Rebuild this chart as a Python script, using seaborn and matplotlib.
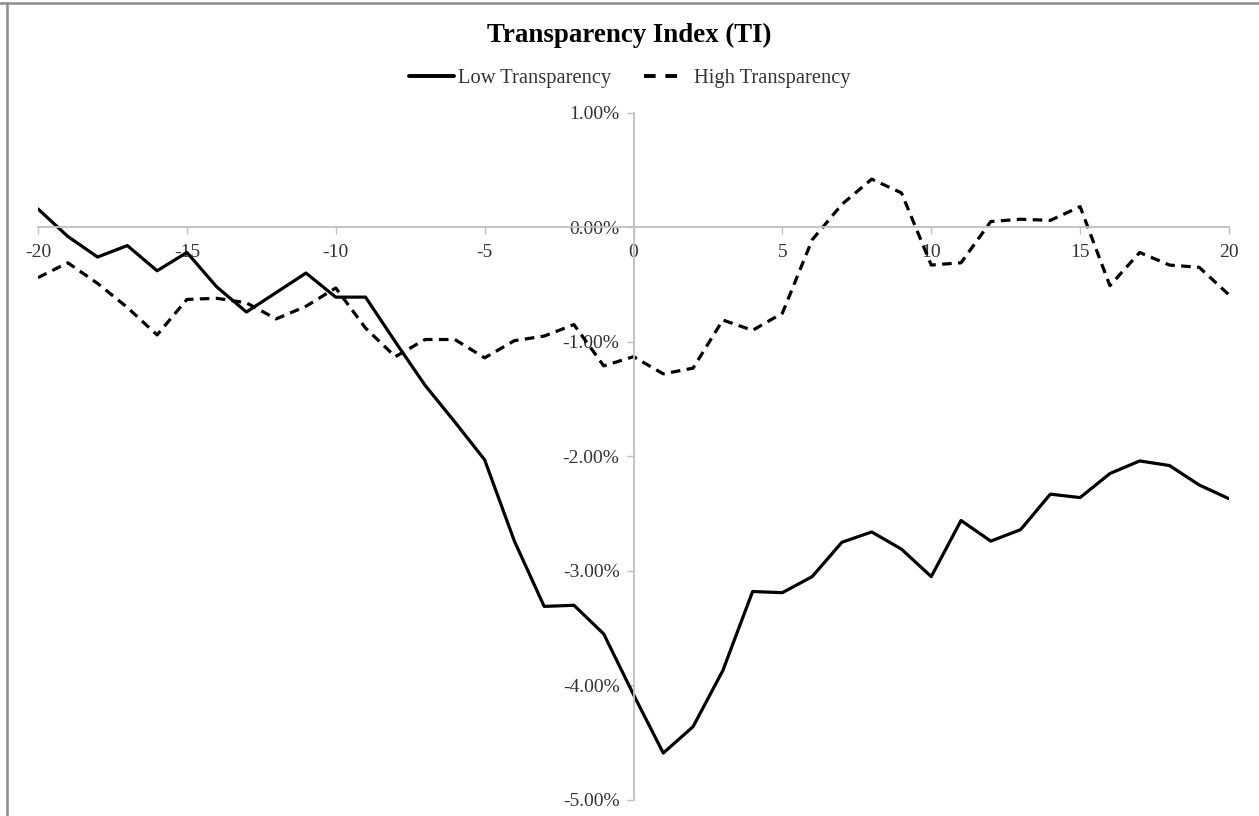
import numpy as np
import pandas as pd
import matplotlib
matplotlib.use("Agg")
import matplotlib.pyplot as plt
import seaborn as sns
from matplotlib.ticker import PercentFormatter, FixedLocator
from matplotlib.lines import Line2D

event_days = list(range(-20, 21))
low_transparency = [0.16, -0.08, -0.26, -0.16, -0.38, -0.22, -0.52, -0.74, -0.57, -0.40,
                    -0.61, -0.61, -1.00, -1.38, -1.70, -2.03, -2.74, -3.31, -3.30, -3.55,
                    -4.08, -4.59, -4.36, -3.87, -3.18, -3.19, -3.05, -2.75, -2.66, -2.81,
                    -3.05, -2.56, -2.74, -2.64, -2.33, -2.36, -2.15, -2.04, -2.08, -2.25,
                    -2.37]
high_transparency = [-0.44, -0.31, -0.49, -0.70, -0.94, -0.63, -0.62, -0.66, -0.80, -0.69,
                     -0.53, -0.88, -1.13, -0.98, -0.98, -1.14, -0.99, -0.95, -0.85, -1.21,
                     -1.13, -1.28, -1.23, -0.81, -0.90, -0.75, -0.11, 0.20, 0.42, 0.30,
                     -0.33, -0.31, 0.05, 0.07, 0.06, 0.18, -0.51, -0.22, -0.33, -0.35,
                     -0.59]
series_names = ["Low Transparency", "High Transparency"]
x_ticks = [-20, -15, -10, -5, 0, 5, 10, 15, 20]
y_ticks = [1.0, 0.0, -1.0, -2.0, -3.0, -4.0, -5.0]
title = "Transparency Index (TI)"

df = pd.DataFrame({
    "day": event_days * 2,
    "value": low_transparency + high_transparency,
    "series": [series_names[0]] * len(event_days) + [series_names[1]] * len(event_days),
})

sns.set_style("white")
plt.rcParams["font.family"] = ["Liberation Serif", "DejaVu Serif"]
plt.rcParams["axes.unicode_minus"] = False

fig = plt.figure(figsize=(12.59, 8.16), dpi=100)
ax = fig.add_axes([38 / 1259, 1 - 800 / 816, (1229 - 38) / 1259, (800 - 112.7) / 816])

sns.lineplot(data=df, x="day", y="value", hue="series", style="series",
             palette={series_names[0]: "black", series_names[1]: "black"},
             dashes={series_names[0]: "", series_names[1]: (3, 2)},
             linewidth=2.3, ax=ax, legend=False)

ax.set_xlim(-20, 20)
ax.set_ylim(-5, 1)
ax.xaxis.set_major_locator(FixedLocator(x_ticks))
ax.yaxis.set_major_locator(FixedLocator(y_ticks))
ax.yaxis.set_major_formatter(PercentFormatter(xmax=100, decimals=2))
ax.set_xlabel("")
ax.set_ylabel("")

axis_color = "#BFBFBF"
text_color = "#333333"
ax.spines["left"].set_position(("data", 0))
ax.spines["bottom"].set_position(("data", 0))
ax.spines["top"].set_visible(False)
ax.spines["right"].set_visible(False)
for s in ("left", "bottom"):
    ax.spines[s].set_color(axis_color)
    ax.spines[s].set_linewidth(1.3)
ax.tick_params(axis="both", which="major", direction="out", length=5, width=1.0,
               color=axis_color, labelsize=14, labelcolor=text_color)
ax.tick_params(axis="x", bottom=True, pad=7)
ax.tick_params(axis="y", left=True, pad=5)
ax.patch.set_alpha(0)

fig.text(0.5, 1 - 35 / 816, title, ha="center", va="center",
         fontsize=19.4, fontweight="bold", color="black")

handles = [Line2D([], [], color="black", lw=2.8, linestyle="-"),
           Line2D([], [], color="black", lw=2.8, linestyle=(0, (3, 2.5, 3, 8)))]
fig.legend(handles, series_names, loc="center", bbox_to_anchor=(0.5, 1 - 78 / 816),
           ncol=2, frameon=False, fontsize=14.8, handlelength=2.2,
           columnspacing=1.6, handletextpad=0.2, labelcolor=text_color)

# partial frame around the figure (top and left edges only)
border = "#8C8C8C"
fig.add_artist(Line2D([0, 1], [1 - 3 / 816, 1 - 3 / 816], transform=fig.transFigure,
                      color=border, linewidth=1.8))
fig.add_artist(Line2D([6.5 / 1259, 6.5 / 1259], [0, 1 - 3 / 816], transform=fig.transFigure,
                      color=border, linewidth=1.8))

fig.savefig("out.png", dpi=100, facecolor="white")
